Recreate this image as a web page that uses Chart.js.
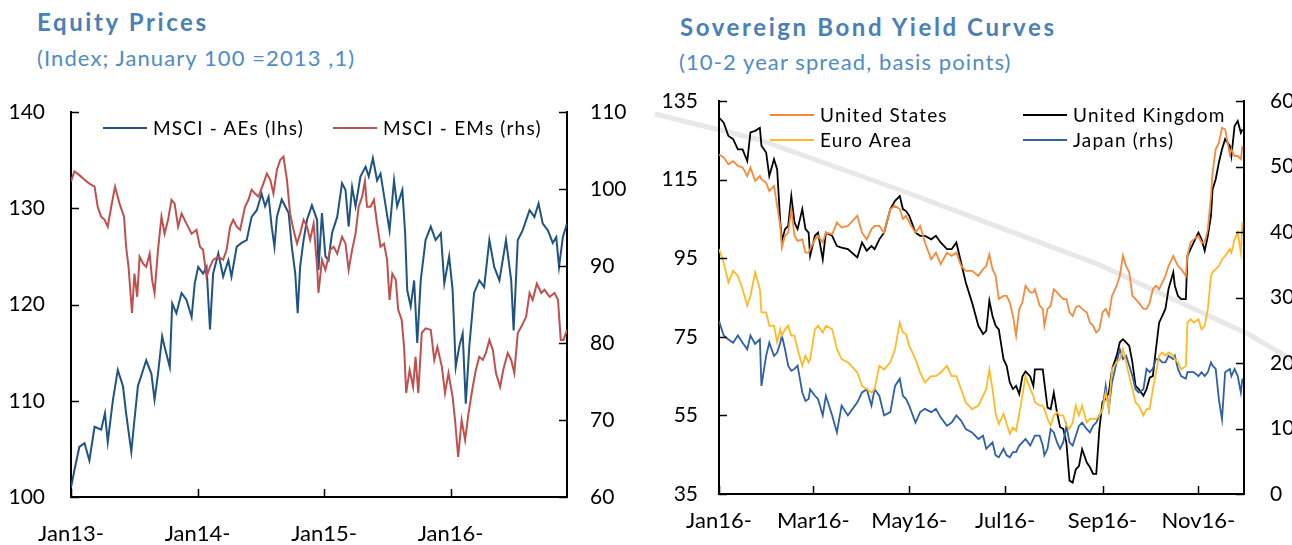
<!DOCTYPE html>
<html>
<head>
<meta charset="utf-8">
<script src="https://cdn.jsdelivr.net/npm/chart.js@4.4.0/dist/chart.umd.min.js"></script>
<style>
  body { margin: 0; background: #fff; font-family: Lato, sans-serif; }
  #page { position: relative; width: 1292px; height: 545px; overflow: hidden; }
  .title { position: absolute; font-weight: bold; font-size: 24px; line-height: 30px; letter-spacing: 2.6px; color: #4a80b5; white-space: nowrap; }
  .sub { position: absolute; font-size: 22px; line-height: 30px; letter-spacing: 1.1px; color: #4f8bc4; white-space: nowrap; }
  canvas { position: absolute; top: 0; }
  .item { position: absolute; display: flex; align-items: center; white-space: nowrap; font-size: 19px; line-height: 22px; letter-spacing: 1.2px; color: #000; }
  .swatch { display: inline-block; width: 44px; height: 2px; margin-right: 6px; }
  #wm { position: absolute; left: 0; top: 0; }
</style>
</head>
<body>
<div id="page">
  <svg id="wm" width="1292" height="545">
    <polyline points="655,114 760,140 900,190 1100,265 1250,335 1292,360" fill="none" stroke="#e8e8e8" stroke-width="5"/>
  </svg>
  <div class="title" style="left:37px; top:7px;">Equity Prices</div>
  <div class="sub" style="left:37px; top:43px;">(Index; January 100 =2013 ,1)</div>
  <div class="title" style="left:680px; top:12px;">Sovereign Bond Yield Curves</div>
  <div class="sub" style="left:679px; top:47px;">(10-2 year spread, basis points)</div>
  <canvas id="equity" width="646" height="545" style="left:0;"></canvas>
  <canvas id="bonds" width="646" height="545" style="left:646px;"></canvas>
</div>
<script>
// equity prices: days since 1 Jan 2013
const equityTickDays = [0, 365, 730, 1095];
const equityTickLabels = ['Jan13-', 'Jan14-', 'Jan15-', 'Jan16-'];

const aeDays = [0,10,24,39,53,68,87,98,106,121,135,150,159,174,183,193,208,217,232,241,
  251,263,270,285,292,304,319,333,348,357,367,381,391,401,410,425,439,454,463,478,
  492,507,521,536,550,560,570,579,587,594,608,618,628,637,647,654,661,671,681,695,710,
  714,724,734,743,753,768,782,792,801,811,821,835,850,859,871,883,893,908,919,932,
  941,956,964,970,980,990,999,1009,1023,1038,1052,1067,1077,1091,1101,1110,1120,1130,1139,1149,
  1163,1178,1192,1207,1221,1236,1255,1270,1277,1289,1303,1323,1337,1349,1361,1376,1390,1400,1408,1419,1431];
const aeValues = [101.0,102.8,105.2,105.6,103.8,107.3,107.0,108.7,105.7,110.1,113.2,111.5,108.7,104.7,108.0,111.5,113.2,114.2,112.8,110.1,
  112.8,116.7,115.6,113.5,120.1,119.1,121.2,120.5,118.7,122.2,123.9,123.2,123.9,117.4,123.2,125.3,122.9,124.6,122.9,126.0,
  126.4,126.7,129.1,129.8,131.5,130.2,131.2,128.1,126.0,129.1,130.9,130.2,129.5,126.0,123.2,119.1,123.9,126.7,128.8,130.3,128.8,
  123.6,129.5,125.0,124.6,127.4,129.1,132.6,131.9,128.1,132.2,130.2,133.3,134.3,133.3,135.2,132.9,133.6,130.2,127.7,132.9,
  130.2,131.9,127.4,121.5,119.8,122.5,116.0,122.5,126.7,128.1,126.7,127.4,122.2,125.0,121.5,113.5,115.6,117.0,109.7,115.6,
  121.2,122.5,121.8,126.7,123.9,122.5,126.7,122.5,117.3,126.7,127.7,129.8,129.1,130.5,128.4,127.7,126.4,127.0,123.9,127.0,128.4];

const emDays = [0,10,24,39,53,68,77,87,97,106,116,127,140,153,159,166,176,183,191,198,
  208,217,227,234,241,251,261,270,280,290,299,309,319,333,348,362,372,381,391,401,
  410,425,439,449,459,468,478,488,502,512,521,531,541,555,565,575,584,594,604,613,
  623,632,642,652,661,671,681,690,700,710,
  714,724,734,748,758,768,782,792,801,811,821,830,840,848,854,864,874,883,893,903,
  912,919,927,937,944,954,961,967,977,987,994,1002,1012,1023,1038,1048,1057,1070,1079,1089,
  1101,1108,1117,1127,1137,1147,1159,1168,1178,1188,1197,1207,1217,1226,1238,1247,1260,1270,1279,1289,
  1299,1313,1323,1332,1344,1357,1366,1381,1395,1405,1413,1421,1431];
const emValues = [101.0,102.3,101.8,101.2,100.7,100.3,97.7,96.4,96.0,95.1,97.7,100.3,98.1,96.4,92.5,89.9,83.9,89.0,86.0,91.2,
  90.3,89.9,91.6,88.2,86.5,92.1,96.4,94.2,96.0,98.6,98.1,95.1,96.8,95.5,94.2,94.7,92.5,92.1,88.6,89.9,
  90.8,91.2,90.8,92.1,95.1,96.0,95.1,94.7,97.7,98.6,99.9,99.4,99.0,100.7,102.0,101.2,99.4,102.5,103.8,104.2,
  101.2,96.8,94.7,92.9,94.2,96.0,95.1,93.4,95.5,89.9,
  86.5,90.8,89.5,92.1,92.5,91.6,93.8,92.9,89.5,92.1,94.2,97.7,99.0,101.0,97.7,97.7,98.6,95.5,92.5,92.9,
  90.8,85.6,89.0,88.2,84.3,83.0,79.5,73.5,76.5,74.3,78.2,73.5,81.3,81.9,81.7,77.8,79.5,76.9,73.5,76.1,
  73.0,70.0,65.2,70.0,67.4,70.9,74.3,76.5,78.2,77.8,78.7,80.4,79.1,76.1,74.3,76.5,78.7,77.8,76.1,81.3,
  82.1,83.4,86.5,85.6,87.7,86.5,86.9,86.0,86.5,85.6,80.4,80.4,81.7];

// bond yield curves: days since 1 Jan 2016
const bondTickDays = [0, 60, 121, 182, 244, 305];
const bondTickLabels = ['Jan16-', 'Mar16-', 'May16-', 'Jul16-', 'Sep16-', 'Nov16-'];

const bondDays = [0,3,6,9,12,15,18,20,23,26,27,30,32,35,37,39,40,42,44,46,
  48,50,53,55,57,58,61,63,66,68,72,75,78,82,88,91,94,97,99,102,
  105,109,112,115,117,119,121,125,128,131,135,138,141,145,148,151,154,157,161,
  165,168,170,172,174,176,178,181,183,185,187,189,191,193,195,198,200,201,204,206,
  207,209,211,213,215,217,219,221,223,225,227,229,231,234,236,238,240,242,244,246,
  248,250,253,255,257,259,261,263,265,267,270,272,274,276,278,280,282,284,286,289,
  290,292,294,297,298,300,302,305,307,309,311,313,314,316,318,320,322,325,326,328,
  330,332,333];
const usSpread = [121.4,120.6,118.9,119.7,118.5,118.1,115.9,118.1,114.7,115.9,115.1,114.2,112.1,113.4,108.3,103.2,97.7,100.7,101.5,107.5,
  100.7,99.4,99.8,96.4,96.4,97.3,99.8,100.7,99.0,101.5,101.1,104.1,102.8,103.2,105.8,101.5,99.8,102.4,103.2,103.2,
  101.5,107.5,108.3,107.5,105.0,105.8,104.1,101.5,103.2,99.0,94.7,96.4,93.5,96.4,95.6,96.4,93.1,91.8,91.8,
  90.5,92.2,93.0,96.0,92.2,90.5,84.6,85.4,85.4,83.7,80.3,75.3,82.1,83.7,88.0,86.3,86.3,87.1,82.9,82.1,
  77.8,82.1,82.9,87.1,86.3,85.4,84.6,84.6,81.2,80.3,82.5,82.9,82.1,81.2,78.6,77.8,76.1,76.9,81.2,82.1,
  80.3,85.4,88.0,90.5,95.6,93.0,91.4,85.4,84.6,83.7,82.1,82.1,83.7,87.1,88.0,87.1,88.8,90.5,93.0,95.6,
  94.7,93.0,92.2,90.5,95.6,99.0,99.8,100.7,99.0,99.0,102.4,110.8,116.8,122.7,124.4,128.2,127.8,121.4,122.7,121.0,
  121.0,120.2,123.6];
const ukSpread = [130.8,129.5,126.1,125.3,122.7,122.7,119.7,127.0,127.4,128.2,123.6,121.9,115.9,120.2,117.6,104.1,99.4,102.4,103.2,110.8,
  104.1,102.4,107.5,102.4,101.5,95.6,100.7,101.5,94.7,101.5,100.7,98.1,97.7,97.3,95.2,99.0,96.9,98.1,97.3,99.8,
  101.5,107.5,109.6,110.8,107.5,107.0,105.8,101.5,100.7,100.7,99.8,100.7,99.0,97.3,97.3,99.0,93.9,88.8,83.7,
  77.8,75.7,76.5,84.2,80.3,77.8,76.9,69.3,67.6,63.4,61.7,62.5,60.4,64.9,66.2,64.9,62.5,66.7,66.7,66.7,
  63.4,57.0,56.6,60.8,55.8,52.0,51.6,48.1,38.4,37.9,41.3,42.1,46.4,43.0,41.8,40.1,40.1,51.6,58.4,59.2,
  60.8,66.7,70.2,73.6,74.4,73.6,72.7,68.5,62.5,61.7,60.0,61.7,64.6,65.0,71.9,78.6,80.3,82.1,87.2,91.4,
  88.0,85.4,84.6,84.6,95.6,97.3,99.0,101.5,99.8,96.9,100.7,105.8,112.5,115.1,119.3,122.7,125.3,123.6,121.0,128.6,
  129.9,126.9,127.8];
const euroSpread = [97.3,93.9,88.8,91.8,90.5,87.1,82.9,85.4,91.4,87.1,81.2,81.2,77.8,77.8,73.6,76.9,75.3,76.9,77.8,75.3,
  75.3,71.9,67.6,70.2,68.5,69.3,76.9,77.8,76.1,77.8,76.9,71.9,69.3,68.5,65.9,62.5,61.7,60.8,61.7,67.6,
  66.7,68.5,71.9,78.6,76.1,75.7,72.7,69.3,65.9,63.4,65.0,65.0,65.9,67.6,65.0,65.0,61.7,58.3,56.6,
  57.5,60.0,61.7,66.7,61.7,55.4,52.8,55.4,52.8,50.3,51.9,51.1,55.4,60.0,65.0,61.7,60.0,58.3,57.5,57.5,
  56.6,54.1,52.4,55.0,55.8,55.0,55.0,52.4,51.6,53.2,57.5,55.0,57.5,53.2,54.1,54.1,54.1,55.0,56.6,60.8,
  56.6,66.7,68.5,69.3,71.9,68.5,65.0,61.7,58.3,57.5,55.0,56.6,56.6,61.7,65.9,70.2,71.0,70.2,71.0,70.2,
  69.3,68.5,66.7,67.6,78.6,79.5,78.6,79.5,76.9,77.8,82.1,90.5,91.4,92.2,93.0,94.7,95.6,97.3,96.4,99.8,
  101.5,96.4,104.1];
const japanSpread = [26.4,24.2,23.6,23.1,24.2,23.1,22.1,24.2,22.9,23.6,16.5,21.1,23.1,21.1,21.6,23.1,24.2,22.1,19.6,18.8,
  19.1,19.6,15.5,14.2,14.5,16.0,15.0,14.5,12.0,15.0,12.0,9.4,13.5,12.0,14.0,15.5,16.0,13.5,16.0,15.0,
  12.0,12.5,16.5,17.6,15.0,14.5,13.5,10.9,12.5,13.0,12.5,13.0,11.7,10.4,10.9,12.0,11.2,9.9,9.4,
  8.4,8.9,6.9,7.4,7.9,5.9,5.6,6.9,5.9,5.6,6.4,6.4,7.4,7.9,8.4,7.4,8.4,8.9,8.9,7.4,
  5.9,6.9,9.9,9.4,7.9,6.9,7.9,10.4,7.9,7.4,8.9,10.4,10.9,9.9,9.4,10.4,10.9,12.0,13.0,16.5,
  13.0,17.0,20.1,22.1,20.6,21.1,19.6,18.0,16.0,15.5,16.0,19.1,18.6,19.1,20.6,20.6,20.1,20.1,21.1,20.6,
  21.1,19.1,18.0,17.6,18.6,18.6,18.6,18.0,18.6,18.0,18.6,20.1,19.6,19.1,14.5,11.4,18.6,19.1,18.0,19.1,
  18.0,15.5,17.6];

const tickFont = { family: 'Lato', size: 21 };
const dateFont = { family: 'Lato', size: 22 };

function toPoints(days, values) {
  return days.map((d, i) => ({ x: d, y: values[i] }));
}

// tick marks point into the plot, so draw them ourselves
const insideTicks = {
  id: 'insideTicks',
  afterDraw(chart) {
    const ctx = chart.ctx;
    const area = chart.chartArea;
    ctx.save();
    ctx.strokeStyle = '#000';
    ctx.lineWidth = 1.5;
    Object.values(chart.scales).forEach(s => {
      s.ticks.forEach(t => {
        const p = Math.round(s.getPixelForValue(t.value)) + 0.5;
        ctx.beginPath();
        if (s.axis === 'x') {
          ctx.moveTo(p, area.bottom);
          ctx.lineTo(p, area.bottom - 8);
        } else if (s.position === 'left') {
          ctx.moveTo(area.left, p);
          ctx.lineTo(area.left + 8, p);
        } else {
          ctx.moveTo(area.right, p);
          ctx.lineTo(area.right - 8, p);
        }
        ctx.stroke();
      });
    });
    ctx.restore();
  }
};

function xAxis(max, tickDays, tickLabels, height, pad) {
  return {
    type: 'linear', min: 0, max: max,
    afterFit: s => { s.height = height; },
    afterBuildTicks: s => { s.ticks = tickDays.map(v => ({ value: v })); },
    border: { color: '#000', width: 2 },
    grid: { drawOnChartArea: false, drawTicks: false },
    ticks: { autoSkip: false, maxRotation: 0, padding: pad, color: '#000', font: dateFont,
             callback: (v, i) => tickLabels[i] }
  };
}

function yAxis(pos, min, max, step, width, pad) {
  return {
    position: pos, min: min, max: max,
    afterFit: s => { s.width = width; },
    border: { color: '#000', width: 2 },
    grid: { drawOnChartArea: false, drawTicks: false },
    ticks: { stepSize: step, padding: pad, color: '#000', font: tickFont }
  };
}

function lineSet(label, color, days, values, axis, width) {
  return {
    label: label, data: toPoints(days, values), yAxisID: axis,
    borderColor: color, backgroundColor: color, borderWidth: width,
    pointRadius: 0, tension: 0, fill: false
  };
}

const equityChart = new Chart(document.getElementById('equity'), {
  type: 'line',
  data: {
    datasets: [
      lineSet('MSCI - EMs (rhs)', '#c0504d', emDays, emValues, 'y1', 2),
      lineSet('MSCI - AEs (lhs)', '#1f5381', aeDays, aeValues, 'y', 2)
    ]
  },
  options: {
    responsive: false, animation: false,
    layout: { padding: { top: 112, left: 0, right: 0, bottom: 0 } },
    plugins: { legend: { display: false }, tooltip: { enabled: false } },
    scales: {
      x: xAxis(1431, equityTickDays, equityTickLabels, 48, 24),
      y: yAxis('left', 100, 140, 10, 71, 26),
      y1: yAxis('right', 60, 110, 10, 79, 23)
    }
  },
  plugins: [insideTicks]
});

const bondChart = new Chart(document.getElementById('bonds'), {
  type: 'line',
  data: {
    datasets: [
      lineSet('United States', '#f58a3d', bondDays, usSpread, 'y', 1.8),
      lineSet('Euro Area', '#ffba26', bondDays, euroSpread, 'y', 1.8),
      lineSet('Japan (rhs)', '#2f5fa7', bondDays, japanSpread, 'y1', 1.8),
      lineSet('United Kingdom', '#000000', bondDays, ukSpread, 'y', 1.8)
    ]
  },
  options: {
    responsive: false, animation: false,
    layout: { padding: { top: 101, left: 0, right: 0, bottom: 0 } },
    plugins: { legend: { display: false }, tooltip: { enabled: false } },
    scales: {
      x: xAxis(334, bondTickDays, bondTickLabels, 51, 14),
      y: yAxis('left', 35, 135, 20, 73, 21),
      y1: yAxis('right', 0, 60, 10, 48, 26)
    }
  },
  plugins: [insideTicks]
});

// html legends, built from the chart datasets
function addLegend(chart, order, spots) {
  const page = document.getElementById('page');
  order.forEach((label, i) => {
    const ds = chart.data.datasets.find(d => d.label === label);
    const item = document.createElement('div');
    item.className = 'item';
    item.style.left = spots[i][0] + 'px';
    item.style.top = (spots[i][1] - 11) + 'px';
    const sw = document.createElement('span');
    sw.className = 'swatch';
    sw.style.background = ds.borderColor;
    item.appendChild(sw);
    item.appendChild(document.createTextNode(label));
    page.appendChild(item);
  });
}

addLegend(equityChart, ['MSCI - AEs (lhs)', 'MSCI - EMs (rhs)'], [[103, 128], [333, 128]]);
addLegend(bondChart, ['United States', 'United Kingdom', 'Euro Area', 'Japan (rhs)'],
  [[770, 115], [1023, 115], [770, 140], [1023, 140]]);
</script>
</body>
</html>
